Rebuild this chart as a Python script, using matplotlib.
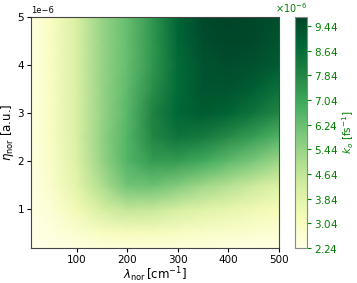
import matplotlib
matplotlib.use("Agg")
import matplotlib.pyplot as plt
import numpy as np
from matplotlib.ticker import ScalarFormatter

# grid (k_o in units of 1e-6 fs^-1)
lam = np.array([10, 50, 100, 150, 200, 250, 300, 350, 400, 450, 500])
eta = np.array([0.2, 0.5, 1.0, 1.5, 2.0, 2.5, 3.0, 3.5, 4.0, 4.5, 5.0]) * 1e-6
k_o = np.array([
    [2.24, 2.30, 2.40, 2.50, 2.55, 2.55, 2.50, 2.45, 2.40, 2.35, 2.30],  # 0.2
    [2.26, 2.40, 2.70, 3.00, 3.10, 3.10, 3.00, 2.90, 2.80, 2.70, 2.60],  # 0.5
    [2.30, 2.60, 3.30, 4.20, 4.60, 4.50, 4.20, 3.90, 3.70, 3.40, 3.20],  # 1.0
    [2.35, 2.80, 3.80, 5.00, 6.10, 6.20, 5.80, 5.30, 4.90, 4.40, 4.00],  # 1.5
    [2.40, 2.90, 4.00, 5.40, 6.60, 7.30, 7.30, 6.90, 6.40, 5.90, 5.30],  # 2.0
    [2.40, 3.00, 4.10, 5.50, 6.60, 7.80, 8.40, 8.20, 7.70, 7.20, 6.60],  # 2.5
    [2.40, 3.00, 4.10, 5.40, 6.50, 7.90, 8.80, 9.10, 8.90, 8.40, 7.80],  # 3.0
    [2.40, 3.00, 4.10, 5.40, 6.40, 7.60, 8.70, 9.30, 9.30, 9.00, 8.50],  # 3.5
    [2.40, 3.00, 4.10, 5.40, 6.30, 7.40, 8.70, 9.30, 9.50, 9.40, 9.10],  # 4.0
    [2.40, 3.00, 4.10, 5.40, 6.30, 7.40, 8.80, 9.50, 9.70, 9.60, 9.30],  # 4.5
    [2.40, 3.00, 4.10, 5.40, 6.30, 7.40, 8.90, 9.60, 9.73, 9.65, 9.45],  # 5.0
]) * 1e-6

cb_ticks = np.array([2.24, 3.04, 3.84, 4.64, 5.44, 6.24, 7.04, 7.84, 8.64, 9.44]) * 1e-6
vmin, vmax = 2.24e-6, 9.73e-6

fig = plt.figure(figsize=(3.57, 2.83), dpi=100)
ax = fig.add_axes([0.087, 0.124, 0.694, 0.816])
cax = fig.add_axes([0.826, 0.124, 0.034, 0.816])

mesh = ax.pcolormesh(lam, eta, k_o, cmap="YlGn", shading="gouraud",
                     vmin=vmin, vmax=vmax, rasterized=True)
ax.set_xlim(10, 500)
ax.set_ylim(0.2e-6, 5e-6)
ax.set_xticks([100, 200, 300, 400, 500])
ax.set_yticks(np.array([1, 2, 3, 4, 5]) * 1e-6)
ax.tick_params(labelsize=7.5, length=3, pad=2)
ax.yaxis.get_offset_text().set_fontsize(6)
ax.set_xlabel(r"$\lambda_{\rm nor}\,[\rm cm^{-1}]$", fontsize=8.5, labelpad=0)
ax.set_ylabel(r"$\eta_{\rm nor}$ [a.u.]", fontsize=8.5, labelpad=1)
for s in ax.spines.values():
    s.set_color("#444444")

cb = fig.colorbar(mesh, cax=cax, ticks=cb_ticks)
fmt = ScalarFormatter(useMathText=True)
fmt.set_powerlimits((0, 0))
cb.formatter = fmt
cb.update_ticks()
cb.ax.tick_params(labelsize=7.5, colors="green", length=3, pad=2)
cb.ax.yaxis.get_offset_text().set_color("green")
cb.ax.yaxis.get_offset_text().set_fontsize(7)
cb.set_label(r"$k_o$ [fs$^{-1}$]", color="green", fontsize=7.5, labelpad=1)
cb.outline.set_edgecolor("#888888")

fig.savefig("out.png", dpi=100)
